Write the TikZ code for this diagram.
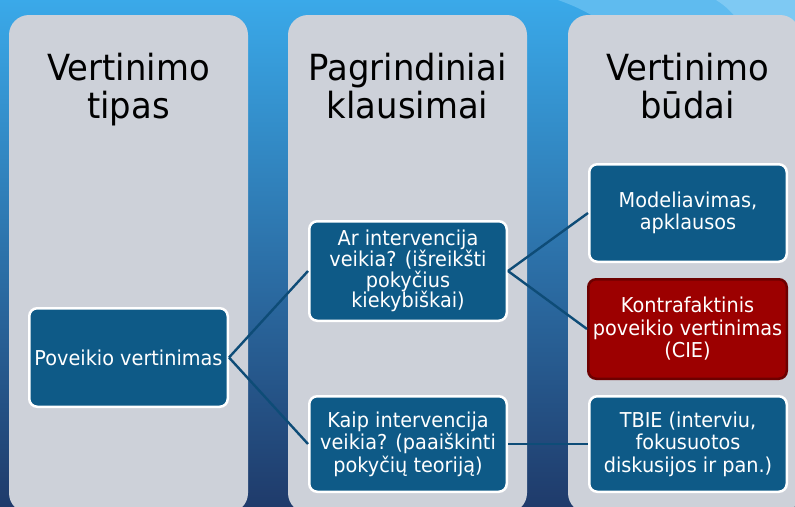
\documentclass[tikz,border=0pt]{standalone}
\usepackage{fontspec}
\setmainfont{DejaVu Sans}[FakeStretch=0.94]
\definecolor{bgtop}{HTML}{3AA9E9}
\definecolor{bgmid}{HTML}{2D79B7}
\definecolor{bgbot}{HTML}{1F3B6B}
\definecolor{sheenA}{HTML}{5FBBEF}
\definecolor{sheenB}{HTML}{7EC9F3}
\definecolor{colgray}{HTML}{CDD1D9}
\definecolor{boxblue}{HTML}{0E5A87}
\definecolor{linkblue}{HTML}{0E4C77}
\definecolor{boxred}{HTML}{9C0000}
\definecolor{boxredline}{HTML}{6D0000}
\tikzset{
  column/.style={fill=colgray, rounded corners=20pt},
  heading/.style={anchor=north, inner sep=0pt, align=center, text=black,
    font=\fontsize{36}{38}\selectfont},
  bluebox/.style={draw=white, line width=2.5pt, fill=boxblue, rounded corners=8pt,
    text=white, align=center, inner sep=1pt, font=\fontsize{20.5}{22.5}\selectfont},
  redbox/.style={bluebox, draw=boxredline, fill=boxred},
  link/.style={draw=linkblue, line width=2.4pt}
}
\begin{document}
\begin{tikzpicture}[x=1pt, y=-1pt]
\useasboundingbox (0,0) rectangle (795,506);
\clip (0,0) rectangle (795,506);
% background
\shade[top color=bgtop, middle color=bgmid, bottom color=bgbot] (0,0) rectangle (795,506);
\fill[sheenA] (558,0) .. controls (578,7) and (596,16) .. (612,30) -- (800,30) -- (800,0) -- cycle;
\fill[sheenB] (716,0) .. controls (726,6) and (734,14) .. (742,26) -- (800,26) -- (800,0) -- cycle;
% columns
\fill[column] (9,15) rectangle (248,513);
\fill[column] (288,15) rectangle (527,513);
\fill[column] (568,15) rectangle (800,513);
% headings
\node[heading] (h1) at (128.5,50) {\rule{0pt}{30pt}Vertinimo\\tipas};
\node[heading] (h2) at (407.5,50) {\rule{0pt}{30pt}Pagrindiniai\\klausimai};
\node[heading] (h3) at (687.5,50) {\rule{0pt}{30pt}Vertinimo\\būdai};
% boxes
\node[bluebox, minimum width=198.5pt, minimum height=98.5pt] (pv) at (128.5,357.5) {Poveikio vertinimas};
\node[bluebox, minimum width=197.5pt, minimum height=99.5pt, font=\fontsize{20.5}{20.7}\selectfont] (ar) at (408,271) {Ar intervencija\\veikia? (išreikšti\\pokyčius\\kiekybiškai)};
\node[bluebox, minimum width=197.5pt, minimum height=95.5pt] (kaip) at (408,444) {Kaip intervencija\\veikia? (paaiškinti\\pokyčių teoriją)};
\node[bluebox, minimum width=197.5pt, minimum height=97.5pt] (mod) at (688,213) {Modeliavimas,\\apklausos};
\node[redbox, minimum width=198.5pt, minimum height=99.5pt] (cie) at (687.5,329) {Kontrafaktinis\\poveikio vertinimas\\(CIE)};
\node[bluebox, minimum width=197.5pt, minimum height=95.5pt] (tbie) at (688,444) {TBIE (interviu,\\fokusuotos\\diskusijos ir pan.)};
% connectors
\draw[link] (pv.east) -- (ar.west);
\draw[link] (pv.east) -- (kaip.west);
\draw[link] (ar.east) -- (mod.west);
\draw[link] (ar.east) -- (cie.west);
\draw[link] (kaip.east) -- (tbie.west);
\end{tikzpicture}
\end{document}
